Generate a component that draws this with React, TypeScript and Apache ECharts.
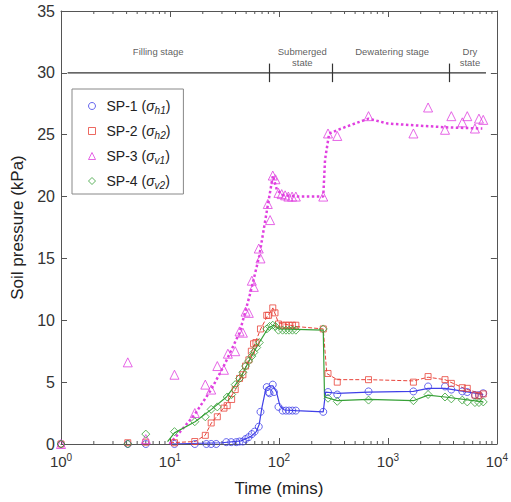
import React, { useEffect, useRef } from "react";
import * as echarts from "echarts";

// ---- Measured data (time in mins, pressure in kPa) ----
const sp1Pts: number[][] = [
  [1, 0], [4.1, 0], [6, 0], [11, 0], [16.9, 0], [21.6, 0], [23.9, 0], [26.6, 0],
  [32.9, 0.15], [36.5, 0.15], [40.6, 0.15], [43.5, 0.2], [46.7, 0.2], [49.4, 0.4],
  [52.6, 0.55], [56.4, 0.8], [59.8, 1.0], [65.3, 1.4], [67.7, 2.6], [77.3, 4.6],
  [80.3, 4.2], [82, 4.1], [87.8, 4.8], [90, 4.2], [99, 3.0], [108, 2.7], [116, 2.7],
  [124, 2.7], [133, 2.7], [143, 2.7], [255, 2.6], [282, 4.2], [343, 4.0], [664, 4.25],
  [1714, 4.25], [2337, 4.65], [3342, 4.65], [3820, 4.4], [4817, 4.25], [5350, 4.2],
  [6290, 3.95], [6846, 3.95], [7498, 4.1],
];
const sp2Pts: number[][] = [
  [1, 0], [4.1, 0.1], [6, 0.15], [11, 0.1], [16.9, 0.2], [21.1, 0.7], [23.9, 1.7],
  [27.2, 2.2], [31.3, 2.9], [33.5, 3.1], [36.8, 3.6], [39.7, 4.4], [43.5, 5.3],
  [46.7, 5.6], [49.4, 6.3], [53, 6.8], [55.8, 7.5], [58.5, 8.1], [61.5, 8.2],
  [67.7, 9.3], [77.3, 10.4], [80.3, 10.4], [87.8, 11.0], [92, 10.6], [99, 9.7],
  [108, 9.6], [116, 9.6], [124, 9.6], [133, 9.6], [143, 9.6], [255, 9.3], [282, 5.7],
  [343, 5.0], [664, 5.2], [1714, 5.0], [2337, 5.45], [3342, 5.2], [3820, 4.9],
  [4817, 4.55], [5350, 4.5], [6290, 3.95], [6846, 3.9], [7498, 4.05],
];
const sp3Pts: number[][] = [
  [1, 0], [4.1, 6.6], [6, 0.4], [11, 5.6], [16.9, 2.5], [21.1, 4.8], [23.9, 4.4],
  [27.2, 6.3], [31.3, 6.0], [34, 7.3], [39.7, 7.5], [43.5, 9.1], [46.7, 9.0],
  [49.4, 10.7], [52.9, 10.6], [56.4, 13.2], [58.8, 12.7], [65.3, 15.8], [67.7, 15.0],
  [79, 19.4], [83, 18.1], [87.8, 21.7], [92.9, 21.4], [99, 20.3], [106, 20.2],
  [114, 20.1], [122, 20.0], [132, 20.0], [143, 20.0], [255, 20.0], [282, 25.1],
  [343, 24.9], [664, 26.5], [1714, 25.1], [2337, 27.2], [3342, 25.4], [3820, 26.5],
  [4817, 26.0], [5350, 26.5], [6290, 25.5], [6846, 26.3], [7498, 26.2],
];
const sp4Pts: number[][] = [
  [1, 0], [4.1, 0], [6, 0.8], [11, 1.0], [16.9, 1.8], [21.1, 2.2], [23.9, 2.8],
  [27.2, 3.0], [33.5, 3.8], [36.8, 4.0], [39.7, 4.8], [43.5, 5.3], [46.7, 5.8],
  [49.4, 6.3], [52.6, 6.7], [56.4, 7.1], [58.8, 7.4], [62.5, 7.8], [66, 8.2],
  [77.3, 9.3], [82, 9.5], [87.8, 9.6], [92.9, 9.5], [99, 9.2], [108, 9.2], [116, 9.2],
  [124, 9.2], [133, 9.2], [143, 9.2], [255, 9.3], [282, 3.7], [343, 3.45], [664, 3.55],
  [1714, 3.5], [2337, 4.0], [3342, 3.8], [3820, 3.65], [4817, 3.55], [5350, 3.4],
  [6290, 3.35], [6846, 3.35], [7498, 3.4],
];

// Trend lines
const sp1Fit: number[][] = [
  [10, 0], [30, 0.1], [45, 0.25], [55, 0.6], [62, 1.0], [66, 1.6], [70, 3.0], [76, 4.5],
  [82, 4.7], [88, 4.7], [95, 4.2], [102, 3.1], [112, 2.75], [143, 2.7], [255, 2.6],
  [268, 4.2], [343, 4.1], [664, 4.2], [1714, 4.25], [2337, 4.5], [3342, 4.5],
  [5000, 4.25], [7498, 4.0],
];
const sp2Fit: number[][] = [
  [10, 0.1], [17, 0.2], [21, 0.7], [24, 1.7], [31, 2.9], [40, 4.4], [50, 6.3],
  [60, 8.1], [68, 9.3], [78, 10.3], [88, 11.0], [99, 9.8], [143, 9.5], [255, 9.3],
  [275, 5.7], [343, 5.2], [664, 5.2], [1714, 5.1], [2337, 5.4], [3342, 5.2],
  [5000, 4.5], [7498, 4.0],
];
const sp3Fit: number[][] = [
  [9.9, 0], [13, 1.2], [16.9, 2.4], [23.9, 4.4], [32, 6.5], [43.5, 9.0], [55, 12.3],
  [66, 15.2], [78, 19.0], [88, 21.7], [96, 20.5], [110, 20.1], [150, 20.0], [255, 20.0],
  [265, 23.0], [289, 25.1], [400, 25.6], [664, 26.3], [1000, 25.9], [3342, 25.6],
  [7350, 25.5],
];
const sp4Fit: number[][] = [
  [9.5, 0.2], [11, 0.9], [17, 1.8], [24, 2.8], [33, 3.8], [44, 5.3], [56, 7.1],
  [66, 8.2], [80, 9.4], [90, 9.6], [100, 9.3], [255, 9.2], [262, 3.8], [343, 3.5],
  [664, 3.6], [1714, 3.5], [2337, 3.95], [3342, 3.8], [7498, 3.4],
];

// Stage annotation
const stageLine: number[][] = [[1.15, 30], [7943, 30]];
const stageBounds: number[] = [82, 311, 3640];
const stageLabels = [
  { name: "Filling stage", value: [7.8, 31.7] },
  { name: "Submerged\nstate", value: [164, 31.25] },
  { name: "Dewatering stage", value: [1094, 31.7] },
  { name: "Dry\nstate", value: [5660, 31.25] },
];

const seriesNames = ["SP-1", "SP-2", "SP-3", "SP-4"];
const subs = ["h1", "h2", "v1", "v2"];
const colors = ["#4040e8", "#e8433a", "#e040e0", "#36a036"];
const symbols = ["circle", "rect", "triangle", "diamond"];
const symbolSizes = [7, 6, 9, 8];

const minorTicks: number[] = [];
for (let d = 1; d < 10000; d *= 10) {
  for (let k = 2; k <= 9; k++) minorTicks.push(d * k);
}

export default function App() {
  const ref = useRef<HTMLDivElement>(null);
  useEffect(() => {
    if (!ref.current) return;
    const chart = echarts.init(ref.current, undefined, { renderer: "svg" });
    const axisColor = "#555";
    const font = "Liberation Sans, Arial, sans-serif";
    const pts = [sp1Pts, sp2Pts, sp3Pts, sp4Pts];
    const fits = [sp1Fit, sp2Fit, sp3Fit, sp4Fit];
    const fitStyles: any[] = [
      { type: "solid", width: 1.2 },
      { type: "dashed", width: 1 },
      { type: "dotted", width: 2.5 },
      { type: "solid", width: 1.2 },
    ];

    const series: any[] = [];
    fits.forEach((f, i) => {
      series.push({
        name: "fit" + i,
        type: "line",
        data: f,
        showSymbol: false,
        symbol: "none",
        lineStyle: { color: colors[i], ...fitStyles[i] },
        z: 2,
        silent: true,
      });
    });
    pts.forEach((p, i) => {
      series.push({
        name: seriesNames[i],
        type: "scatter",
        data: p,
        symbol: symbols[i],
        symbolSize: symbolSizes[i],
        itemStyle: { color: "rgba(0,0,0,0)", borderColor: colors[i], borderWidth: 1 },
        z: 3,
      });
    });
    // stage line
    series.push({
      name: "stage",
      type: "line",
      data: stageLine,
      symbol: "none",
      lineStyle: { color: "#333", width: 1.2 },
      silent: true,
      markLine: {
        silent: true,
        symbol: "none",
        label: { show: false },
        lineStyle: { color: "#333", width: 1.2, type: "solid" },
        data: stageBounds.map((b) => [
          { coord: [b, 29.25] },
          { coord: [b, 30.75] },
        ]),
      },
    });
    series.push({
      name: "stageLabels",
      type: "scatter",
      data: stageLabels,
      symbolSize: 0,
      silent: true,
      itemStyle: { color: "#333" },
      label: {
        show: true,
        position: [0, 0],
        align: "center",
        verticalAlign: "middle",
        formatter: (p: any) => p.name,
        fontSize: 9.5,
        color: "#333",
        textBorderWidth: 0,
        fontFamily: font,
        lineHeight: 11,
      },
    });
    // minor ticks on log axis
    series.push({
      name: "minor",
      type: "custom",
      silent: true,
      data: minorTicks.map((t) => [t, 0]),
      renderItem: (params: any, api: any) => {
        const x = api.coord([api.value(0), 0])[0];
        const yb = api.coord([1, 0])[1];
        const yt = api.coord([1, 35])[1];
        return {
          type: "group",
          children: [
            { type: "line", shape: { x1: x, y1: yb, x2: x, y2: yb - 3 }, style: { stroke: axisColor, lineWidth: 1 } },
            { type: "line", shape: { x1: x, y1: yt, x2: x, y2: yt + 3 }, style: { stroke: axisColor, lineWidth: 1 } },
          ],
        };
      },
    });

    const supLabel = (v: number) => `{b|10}{s|${Math.round(Math.log10(v))}}`;

    chart.setOption({
      animation: false,
      textStyle: { fontFamily: font },
      grid: { left: 61, right: 13, top: 11, bottom: 57, containLabel: false },
      legend: {
        data: seriesNames.map((n, i) => ({
          name: n,
          icon: symbols[i],
          itemStyle: { color: "rgba(0,0,0,0)", borderColor: colors[i], borderWidth: 1 },
        })),
        orient: "vertical",
        left: 72,
        top: 89,
        borderColor: "#888",
        borderWidth: 1,
        padding: [6, 13, 4, 16],
        itemGap: 5,
        itemWidth: 7,
        itemHeight: 7,
        backgroundColor: "#fff",
        formatter: (name: string) => {
          const i = seriesNames.indexOf(name);
          return `{t|${name} (}{g|σ}{s|${subs[i]}}{t|)}`;
        },
        textStyle: {
          fontFamily: font,
          padding: [0, 0, 0, 6],
          rich: {
            t: { fontSize: 14, color: "#222", lineHeight: 18, fontFamily: font },
            g: { fontSize: 14, color: "#222", fontStyle: "italic", lineHeight: 18, fontFamily: font },
            s: { fontSize: 10, color: "#222", fontStyle: "italic", verticalAlign: "bottom", lineHeight: 10, padding: [10, 0, 0, 0], fontFamily: font },
          },
        },
      },
      xAxis: [
        {
          type: "log",
          logBase: 10,
          min: 1,
          max: 10000,
          position: "bottom",
          name: "Time (mins)",
          nameLocation: "middle",
          nameGap: 36,
          nameTextStyle: { fontSize: 17, color: "#222", fontFamily: font },
          axisLine: { onZero: false, lineStyle: { color: axisColor } },
          axisTick: { inside: true, length: 6, lineStyle: { color: axisColor } },
          axisLabel: {
            formatter: supLabel,
            margin: 8,
            rich: {
              b: { fontSize: 15, color: "#333", fontFamily: font },
              s: { fontSize: 10, color: "#333", verticalAlign: "top", padding: [0, 0, 8, 0], fontFamily: font },
            },
          },
          splitLine: { show: false },
        },
        {
          type: "log",
          logBase: 10,
          min: 1,
          max: 10000,
          position: "top",
          axisLine: { onZero: false, lineStyle: { color: axisColor } },
          axisTick: { inside: true, length: 6, lineStyle: { color: axisColor } },
          axisLabel: { show: false },
          splitLine: { show: false },
        },
      ],
      yAxis: [
        {
          type: "value",
          min: 0,
          max: 35,
          interval: 5,
          position: "left",
          name: "Soil pressure (kPa)",
          nameLocation: "middle",
          nameGap: 26,
          nameTextStyle: { fontSize: 17, color: "#222", fontFamily: font },
          axisLine: { show: true, lineStyle: { color: axisColor } },
          axisTick: { show: true, inside: true, length: 6, lineStyle: { color: axisColor } },
          axisLabel: { fontSize: 16, color: "#333", margin: 6, fontFamily: font },
          splitLine: { show: false },
        },
        {
          type: "value",
          min: 0,
          max: 35,
          interval: 5,
          position: "right",
          axisLine: { show: true, lineStyle: { color: axisColor } },
          axisTick: { show: true, inside: true, length: 6, lineStyle: { color: axisColor } },
          axisLabel: { show: false },
          splitLine: { show: false },
        },
      ],
      series,
    });
    return () => chart.dispose();
  }, []);
  return (
    <div
      ref={ref}
      style={{ position: "fixed", left: 0, top: 0, width: 511, height: 502, background: "#fff" }}
    />
  );
}
